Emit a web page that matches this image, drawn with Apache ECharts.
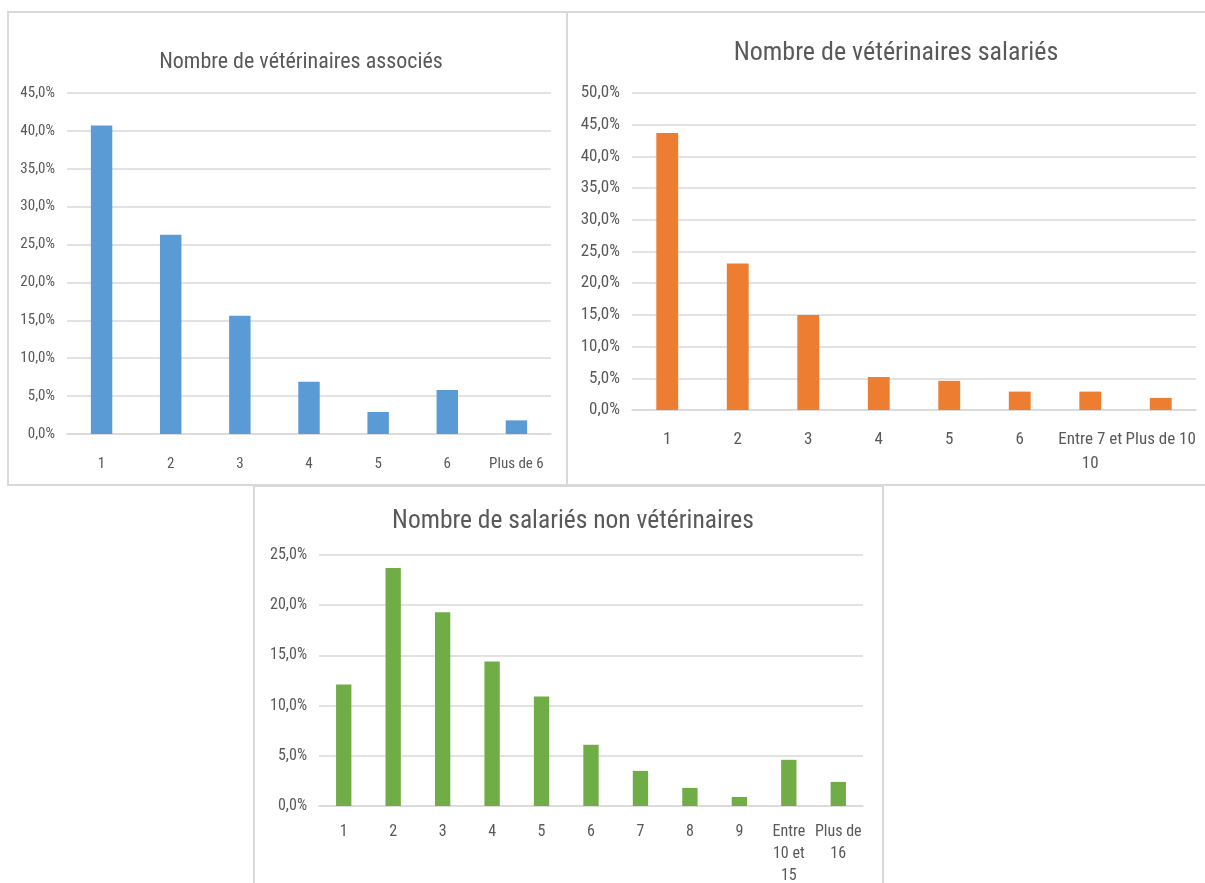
<!DOCTYPE html>
<html>
<head>
<meta charset="utf-8">
<script src="https://cdn.jsdelivr.net/npm/echarts@6/dist/echarts.min.js"></script>
<style>
  html, body { margin: 0; padding: 0; background: #ffffff; }
  #chart { width: 1205px; height: 883px; }
</style>
</head>
<body>
<div id="chart"></div>
<script>
// Vétérinaires associés (share of practices, %)
const associesCategories = ['1', '2', '3', '4', '5', '6', 'Plus de 6'];
const associesValues = [40.7, 26.3, 15.6, 6.9, 2.9, 5.8, 1.8];

// Vétérinaires salariés (%)
const salariesCategories = ['1', '2', '3', '4', '5', '6', 'Entre 7 et\n10', 'Plus de 10'];
const salariesValues = [43.7, 23.1, 15.0, 5.2, 4.6, 2.9, 2.9, 1.9];

// Salariés non vétérinaires (%)
const nonVetCategories = ['1', '2', '3', '4', '5', '6', '7', '8', '9', 'Entre\n10 et\n15', 'Plus de\n16'];
const nonVetValues = [12.1, 23.7, 19.3, 14.4, 10.9, 6.1, 3.5, 1.8, 0.9, 4.6, 2.4];

const titles = [
  'Nombre de vétérinaires associés',
  'Nombre de vétérinaires salariés',
  'Nombre de salariés non vétérinaires'
];

const FONT = '"Liberation Sans Narrow", "Arial Narrow", "Roboto Condensed", sans-serif';
const TEXT = '#595959';
const GRID_LINE = '#d9d9d9';
const COLORS = ['#5b9bd5', '#ed7d31', '#70ad47'];

const pct = v => v.toFixed(1).replace('.', ',') + '%';

function xAxisFor(gridIndex, categories, fontSize, margin, lineHeight) {
  return {
    type: 'category',
    gridIndex,
    data: categories,
    axisLine: { lineStyle: { color: GRID_LINE, width: 1.5 } },
    axisTick: { show: false },
    axisLabel: {
      color: TEXT, fontFamily: FONT, fontSize, margin,
      interval: 0, lineHeight
    }
  };
}

function yAxisFor(gridIndex, max, fontSize) {
  return {
    type: 'value',
    gridIndex,
    min: 0, max, interval: 5,
    axisLine: { show: false },
    axisTick: { show: false },
    splitLine: { lineStyle: { color: GRID_LINE, width: 1.5 } },
    axisLabel: { color: TEXT, fontFamily: FONT, fontSize, margin: 12, formatter: pct }
  };
}

function barSeries(idx, values) {
  return {
    type: 'bar',
    xAxisIndex: idx, yAxisIndex: idx,
    data: values,
    barWidth: '31%',
    itemStyle: { color: COLORS[idx] },
    silent: true
  };
}

const chart = echarts.init(document.getElementById('chart'), null, { renderer: 'canvas' });

chart.setOption({
  animation: false,
  backgroundColor: '#ffffff',
  graphic: [
    { type: 'rect', shape: { x: 8, y: 12, width: 559, height: 473 },
      style: { fill: 'none', stroke: GRID_LINE, lineWidth: 2 } },
    { type: 'rect', shape: { x: 567, y: 12, width: 640, height: 473 },
      style: { fill: 'none', stroke: GRID_LINE, lineWidth: 2 } },
    { type: 'rect', shape: { x: 254, y: 486, width: 629, height: 410 },
      style: { fill: '#ffffff', stroke: GRID_LINE, lineWidth: 2 }, z: -1 }
  ],
  title: [
    { text: titles[0], left: 296, top: 46, textAlign: 'center',
      textStyle: { color: TEXT, fontFamily: FONT, fontSize: 22, fontWeight: 'normal' } },
    { text: titles[1], left: 891, top: 35, textAlign: 'center',
      textStyle: { color: TEXT, fontFamily: FONT, fontSize: 26, fontWeight: 'normal' } },
    { text: titles[2], left: 568, top: 504, textAlign: 'center',
      textStyle: { color: TEXT, fontFamily: FONT, fontSize: 25.5, fontWeight: 'normal' } }
  ],
  grid: [
    { left: 67, top: 93, width: 484, height: 341, outerBoundsMode: 'none' },
    { left: 632, top: 93, width: 564, height: 317, outerBoundsMode: 'none' },
    { left: 319, top: 555, width: 544, height: 251, outerBoundsMode: 'none' }
  ],
  xAxis: [
    xAxisFor(0, associesCategories, 15, 19, 22),
    xAxisFor(1, salariesCategories, 17, 18, 24),
    xAxisFor(2, nonVetCategories, 16, 15, 22)
  ],
  yAxis: [
    yAxisFor(0, 45, 15),
    yAxisFor(1, 50, 17),
    yAxisFor(2, 25, 16)
  ],
  series: [
    barSeries(0, associesValues),
    barSeries(1, salariesValues),
    barSeries(2, nonVetValues)
  ]
});
</script>
</body>
</html>
